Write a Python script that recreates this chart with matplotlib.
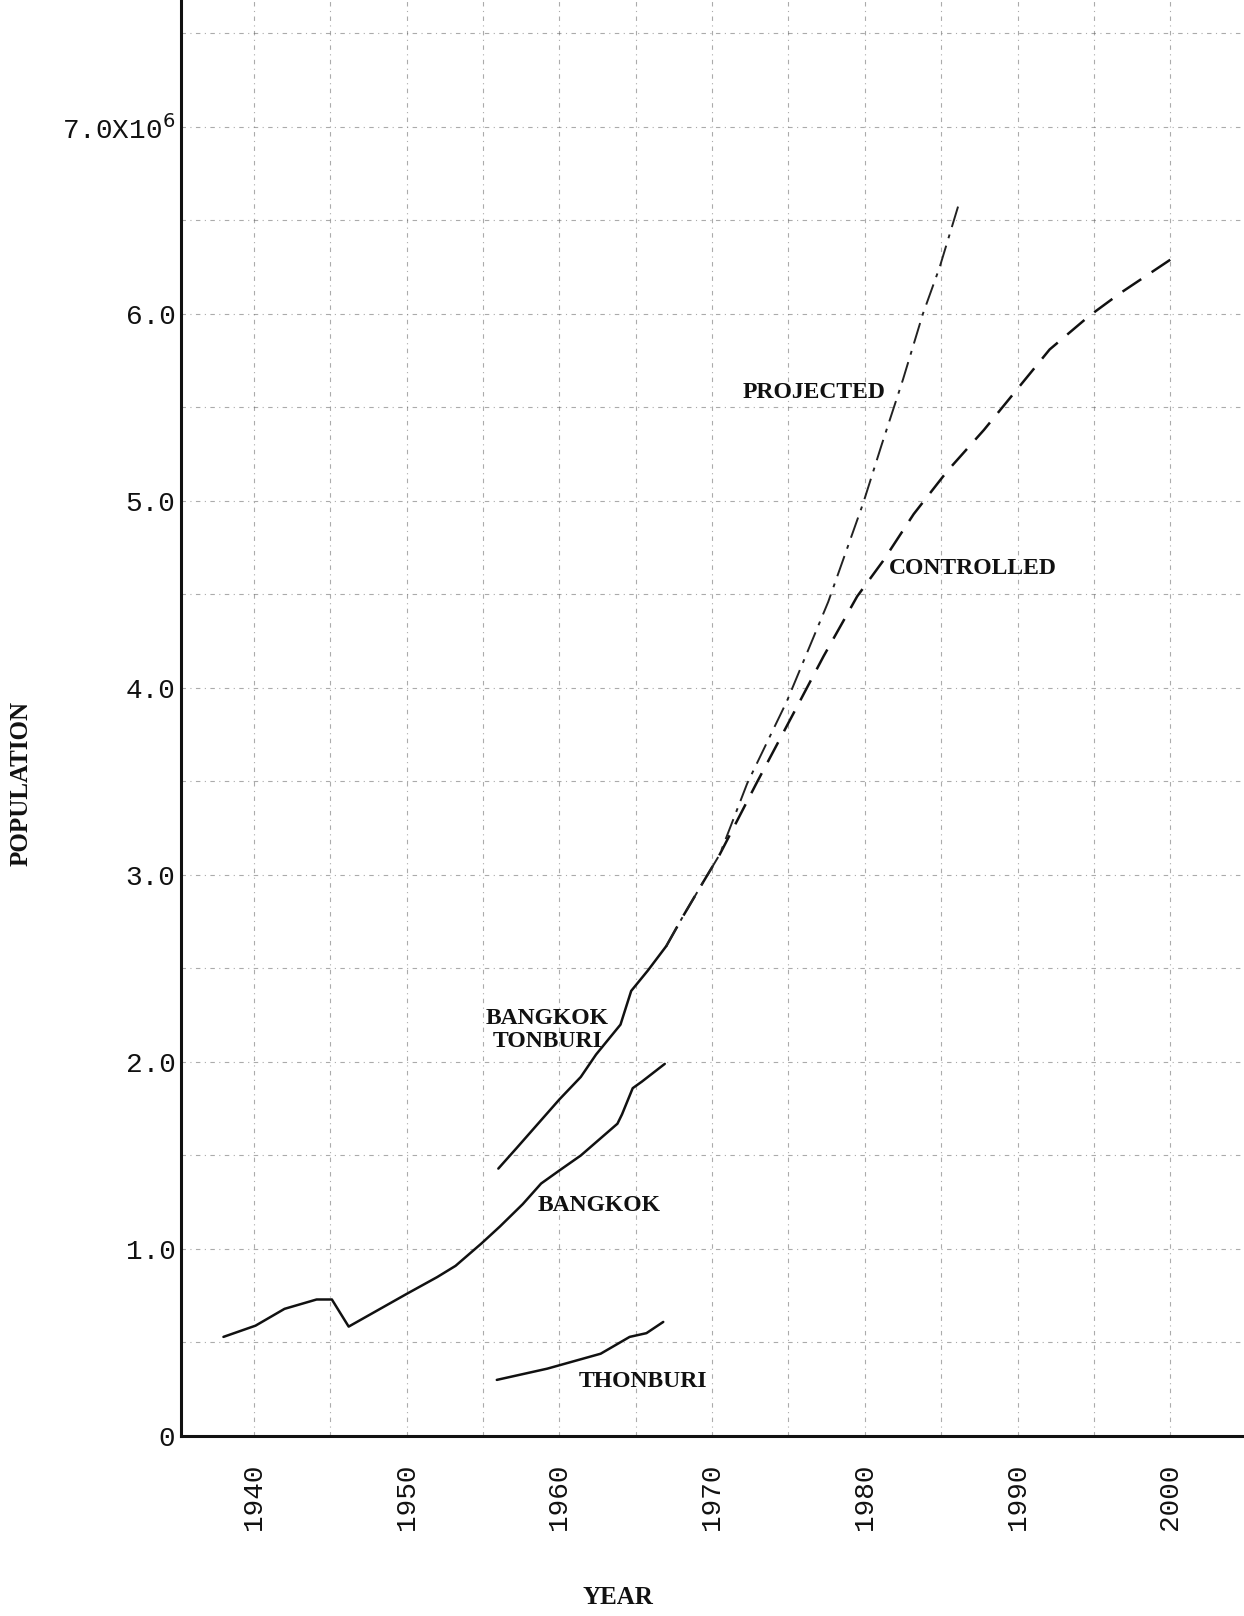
import matplotlib
matplotlib.use("Agg")
import matplotlib.pyplot as plt
from matplotlib.ticker import MultipleLocator, FixedLocator

# ---------------- data ----------------
bangkok_years = [1938.0, 1940.1, 1942.0, 1944.1, 1945.1, 1946.2, 1950.0, 1952.0,
                 1953.2, 1954.9, 1956.1, 1957.6, 1958.8, 1960.0, 1961.4, 1963.8,
                 1964.1, 1964.8, 1965.4, 1966.9]
bangkok_pop = [0.53, 0.59, 0.68, 0.73, 0.73, 0.585, 0.76, 0.85,
               0.91, 1.03, 1.12, 1.24, 1.35, 1.42, 1.50, 1.67,
               1.72, 1.86, 1.895, 1.99]

thonburi_years = [1955.9, 1959.2, 1962.7, 1964.6, 1965.7, 1966.8]
thonburi_pop = [0.30, 0.36, 0.44, 0.53, 0.55, 0.61]

bt_years = [1956.0, 1957.2, 1958.6, 1960.0, 1961.4, 1962.4, 1964.0, 1964.7,
            1965.8, 1967.0]
bt_pop = [1.43, 1.54, 1.67, 1.80, 1.92, 2.04, 2.20, 2.38, 2.49, 2.62]

projected_years = [1967.0, 1968.1, 1969.4, 1970.5, 1972.3, 1974.9, 1977.6,
                   1979.9, 1981.1, 1982.5, 1983.8, 1984.9, 1986.2]
projected_pop = [2.62, 2.78, 2.96, 3.11, 3.49, 3.93, 4.46,
                 4.99, 5.30, 5.65, 6.00, 6.25, 6.60]

controlled_years = [1967.0, 1968.1, 1969.4, 1970.5, 1972.9, 1975.3, 1977.3,
                    1979.5, 1981.2, 1983.2, 1985.4, 1987.8, 1989.9, 1992.1,
                    1994.7, 1996.7, 2000.0]
controlled_pop = [2.62, 2.78, 2.96, 3.11, 3.49, 3.86, 4.17,
                  4.49, 4.68, 4.93, 5.16, 5.38, 5.59, 5.81,
                  5.99, 6.11, 6.29]

x_ticks = [1940, 1950, 1960, 1970, 1980, 1990, 2000]
x_tick_labels = ["1940", "1950", "1960", "1970", "1980", "1990", "2000"]
y_ticks = [0, 1, 2, 3, 4, 5, 6, 7]
y_tick_labels = ["0", "1.0", "2.0", "3.0", "4.0", "5.0", "6.0", "7.0X10$^6$"]

curve_labels = [
    ("PROJECTED", 1976.7, 5.58),
    ("CONTROLLED", 1987.1, 4.64),
    ("BANGKOK\nTONBURI", 1959.2, 2.17),
    ("BANGKOK", 1962.6, 1.235),
    ("THONBURI", 1965.5, 0.29),
]

# ---------------- figure ----------------
fig = plt.figure(figsize=(12.44, 16.16), dpi=100)
ax = fig.add_axes([181 / 1244, 180 / 1616, 1063 / 1244, 1436 / 1616])
ax.set_xlim(1935.22, 2004.83)
ax.set_ylim(0, 7.679)

for s in ["top", "right"]:
    ax.spines[s].set_visible(False)
for s in ["left", "bottom"]:
    ax.spines[s].set_linewidth(2.2)
    ax.spines[s].set_color("#111111")

ax.xaxis.set_major_locator(FixedLocator(x_ticks))
ax.xaxis.set_minor_locator(MultipleLocator(5))
ax.yaxis.set_major_locator(FixedLocator(y_ticks))
ax.yaxis.set_minor_locator(MultipleLocator(0.5))

grid_kw = dict(color="#666666", linewidth=0.8, linestyle=(0, (4, 4, 1, 4)), alpha=0.55)
ax.grid(True, which="both", axis="both", **grid_kw)
ax.set_axisbelow(True)

ax.set_xticklabels(x_tick_labels, rotation=90, fontfamily="Liberation Mono",
                   fontsize=20, color="#111111")
ax.set_yticklabels(y_tick_labels, fontfamily="Liberation Mono",
                   fontsize=20, color="#111111")
ax.tick_params(axis="x", which="both", length=0, pad=20)
ax.tick_params(axis="y", which="both", length=0, pad=4)

line_kw = dict(color="#111111", linewidth=1.8, solid_capstyle="round")
ax.plot(bangkok_years, bangkok_pop, **line_kw)
ax.plot(thonburi_years, thonburi_pop, **line_kw)
ax.plot(bt_years, bt_pop, **line_kw)
ax.plot(controlled_years, controlled_pop, color="#111111", linewidth=1.8,
        linestyle=(0, (9, 5)))
ax.plot(projected_years, projected_pop, color="#222222", linewidth=1.4,
        linestyle=(0, (11, 4, 2, 4)))

for text, x, y in curve_labels:
    ax.text(x, y, text, fontfamily="Liberation Serif", fontweight="bold",
            fontsize=17, color="#111111", ha="center", va="center",
            linespacing=1.1)

fig.text(20.6 / 1244, 1 - 783 / 1616, "POPULATION", rotation=90,
         fontfamily="Liberation Serif", fontweight="bold", fontsize=18,
         color="#111111", ha="center", va="center")
fig.text(618 / 1244, 1 - 1597 / 1616, "YEAR",
         fontfamily="Liberation Serif", fontweight="bold", fontsize=18,
         color="#111111", ha="center", va="center")

fig.savefig("out.png", dpi=100, facecolor="white")
